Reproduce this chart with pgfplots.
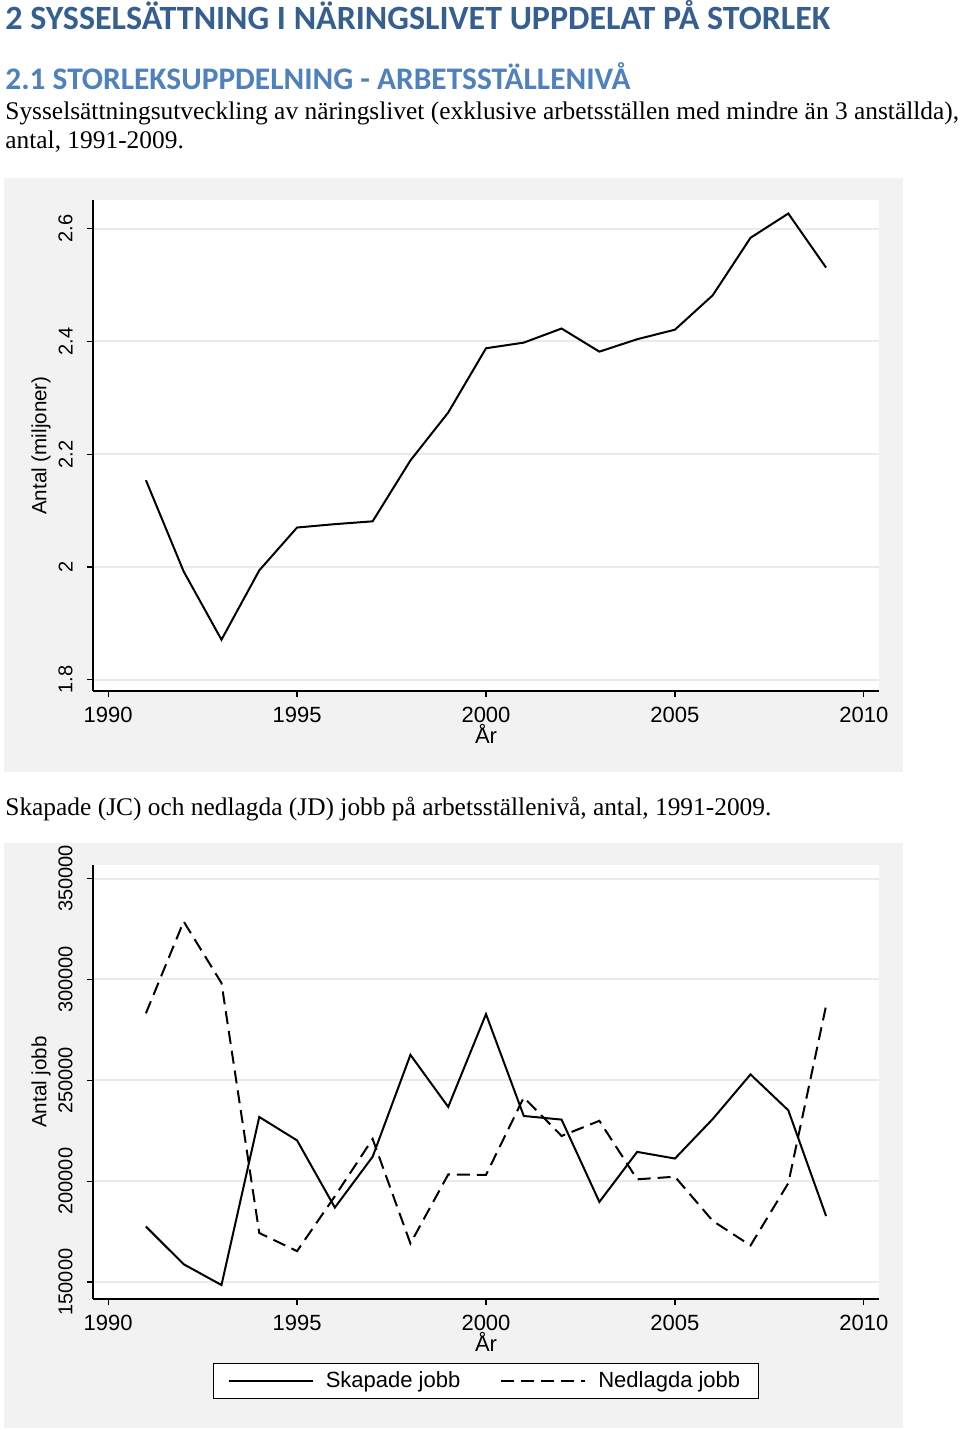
\documentclass[border=0pt]{standalone}
\usepackage{fontspec}
\setmainfont{Liberation Serif}
\newfontfamily\headfont{Carlito}
\newfontfamily\arialfont{Liberation Sans}
\usepackage{pgfplots}
\usepackage{pgfplotstable}
\pgfplotsset{compat=1.18}
\definecolor{headA}{HTML}{365F91}
\definecolor{headB}{HTML}{4F81BD}
\definecolor{panel}{HTML}{F2F2F2}
\definecolor{gridc}{HTML}{EAEAEA}

\pgfplotstableread{
year total
1991 2.154
1992 1.992
1993 1.871
1994 1.994
1995 2.070
1996 2.076
1997 2.081
1998 2.189
1999 2.274
2000 2.388
2001 2.398
2002 2.423
2003 2.382
2004 2.404
2005 2.421
2006 2.482
2007 2.584
2008 2.627
2009 2.531
}\totaltable

\pgfplotstableread{
year jc jd
1991 177500 283200
1992 158800 328700
1993 148500 298200
1994 231800 174300
1995 220200 165300
1996 186900 192500
1997 212100 220900
1998 262600 169100
1999 236800 203300
2000 282800 203100
2001 232300 241500
2002 230500 222400
2003 189700 229900
2004 214500 200900
2005 211200 202200
2006 230800 180300
2007 252900 168100
2008 235100 199000
2009 182700 287000
}\jobtable

\pgfplotsset{
  stataax/.style={
    scale only axis,
    width=393pt,
    axis lines*=left,
    axis line style={-, black, line width=0.7pt},
    axis background/.style={fill=white},
    xmin=1989.6, xmax=2010.4,
    xtick={1990,1995,2000,2005,2010},
    xticklabels={1990,1995,2000,2005,2010},
    scaled y ticks=false,
    scaled x ticks=false,
    tick align=outside,
    major tick length=3pt,
    tick style={black, line width=0.6pt},
    ymajorgrids,
    grid style={gridc, line width=1pt},
    xticklabel style={font=\arialfont\fontsize{11}{13}\selectfont, anchor=north, inner sep=0pt, yshift=-5pt},
    yticklabel style={font=\arialfont\fontsize{10}{12}\selectfont, rotate=90, anchor=south, inner sep=0pt},
    yticklabel shift=7pt,
    xlabel={År},
    xlabel style={font=\arialfont\fontsize{11}{13}\selectfont, at={(axis description cs:0.5,0)}, anchor=base, inner sep=0pt, yshift=-26pt},
    ylabel style={font=\arialfont\fontsize{10.3}{12}\selectfont, at={(axis description cs:0,0.5)}, anchor=center, yshift=26pt},
  }
}

\begin{document}
\begin{tikzpicture}
\path[use as bounding box] (0,0) rectangle (480pt,-715pt);
\node[anchor=base west, inner sep=0pt, text=headA, font=\headfont\bfseries\fontsize{17}{20}\selectfont] at (2.5pt,-14.5pt) {2 SYSSELSÄTTNING I NÄRINGSLIVET UPPDELAT PÅ STORLEK};
\node[anchor=base west, inner sep=0pt, text=headB, font=\headfont\bfseries\fontsize{15.7}{19}\selectfont] at (2.5pt,-44.5pt) {2.1 STORLEKSUPPDELNING - ARBETSSTÄLLENIVÅ};
\node[anchor=base west, inner sep=0pt, font=\fontsize{12.7}{15}\selectfont] at (2.5pt,-59.5pt) {Sysselsättningsutveckling av näringslivet (exklusive arbetsställen med mindre än 3 anställda),};
\node[anchor=base west, inner sep=0pt, font=\fontsize{12.7}{15}\selectfont] at (2.5pt,-74pt) {antal, 1991-2009.};
\node[anchor=base west, inner sep=0pt, font=\fontsize{12.7}{15}\selectfont] at (2.5pt,-407.5pt) {Skapade (JC) och nedlagda (JD) jobb på arbetsställenivå, antal, 1991-2009.};

\fill[panel] (2pt,-89pt) rectangle (451.5pt,-386pt);
\fill[panel] (2pt,-421.5pt) rectangle (451.5pt,-714pt);

\begin{axis}[stataax,
  at={(46.5pt,-345.5pt)}, anchor=south west,
  height=245.5pt,
  ymin=1.780, ymax=2.651,
  ytick={1.8,2,2.2,2.4,2.6},
  yticklabels={1.8,2,2.2,2.4,2.6},
  ylabel={Antal (miljoner)},
]
\addplot[black, line width=1pt, mark=none] table[x=year,y=total]{\totaltable};
\end{axis}

\begin{axis}[stataax,
  at={(46.5pt,-649.5pt)}, anchor=south west,
  height=217pt,
  ymin=141570, ymax=356700,
  ytick={150000,200000,250000,300000,350000},
  yticklabels={150000,200000,250000,300000,350000},
  ylabel={Antal jobb},
  legend columns=2,
  legend style={at={(axis description cs:0.5,0)}, anchor=north, yshift=-32pt,
    draw=black, line width=0.6pt, fill=white,
    font=\arialfont\fontsize{11}{13}\selectfont,
    inner xsep=7pt, inner ysep=2pt,
    /tikz/every even column/.append style={column sep=18pt}},
  legend image code/.code={\draw[#1] (0pt,0pt) -- (42pt,0pt); \path (46pt,0pt);},
]
\addplot[black, line width=1pt, mark=none] table[x=year,y=jc]{\jobtable};
\addlegendentry{Skapade jobb}
\addplot[black, line width=1pt, mark=none, dash pattern=on 6.5pt off 3.5pt] table[x=year,y=jd]{\jobtable};
\addlegendentry{Nedlagda jobb}
\end{axis}
\end{tikzpicture}
\end{document}
